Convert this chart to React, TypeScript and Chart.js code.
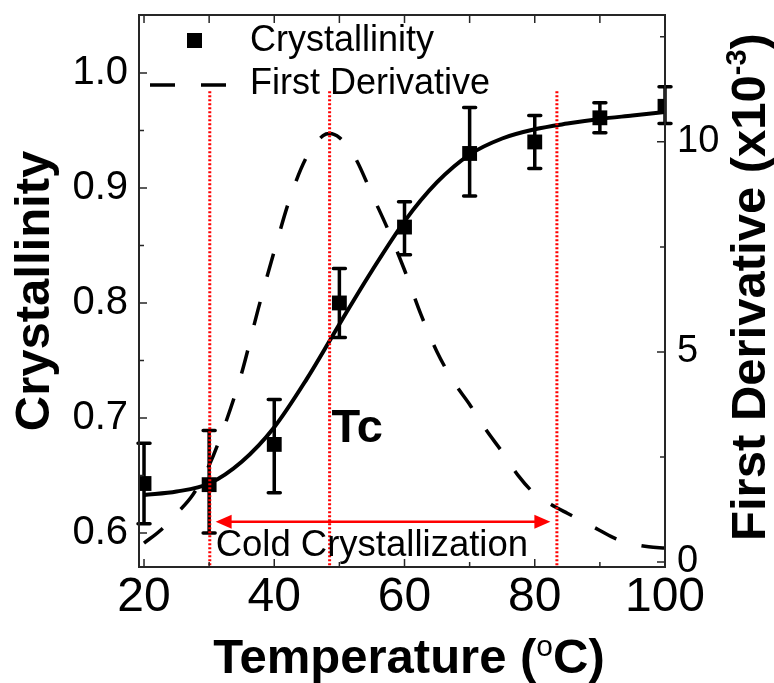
import React, { useEffect, useRef } from "react";
import { Chart, registerables } from "chart.js";

Chart.register(...registerables);

// Measured crystallinity (squares) with error bars
const temperatures = [20, 30, 40, 50, 60, 70, 80, 90, 100];
const crystallinity = [0.643, 0.642, 0.677, 0.8, 0.866, 0.93, 0.94, 0.961, 0.971];
const crystallinityLow = [0.608, 0.6, 0.635, 0.77, 0.842, 0.893, 0.917, 0.948, 0.956];
const crystallinityHigh = [0.678, 0.689, 0.716, 0.83, 0.888, 0.97, 0.963, 0.974, 0.988];

// Sigmoidal fit through the measurements
const fitTemperatures = [20, 25, 30, 35, 40, 45, 48.6, 51, 55, 60, 65, 70, 75, 80, 85, 90, 95, 100];
const fitCrystallinity = [0.633, 0.636, 0.643, 0.662, 0.692, 0.734, 0.768, 0.791, 0.828, 0.871, 0.905, 0.929, 0.943, 0.951, 0.956, 0.96, 0.963, 0.966];

// First derivative of the fit, in units of 10^-3
const derivativeTemperatures = [20, 22.5, 25, 27.5, 30, 32.5, 35, 37.5, 40, 42.5, 45, 47.5, 48.5, 50, 52.5, 55, 57.5, 60, 62.5, 65, 67.5, 70, 72.5, 75, 77.5, 80, 82.5, 85, 87.5, 90, 92.5, 95, 97.5, 100];
const derivativeValues = [0.45, 0.75, 1.15, 1.6, 2.3, 3.3, 4.5, 6.0, 7.4, 8.7, 9.65, 10.15, 10.2, 10.1, 9.6, 8.75, 7.9, 6.95, 5.9, 5.0, 4.3, 3.75, 3.15, 2.62, 2.05, 1.62, 1.37, 1.16, 0.96, 0.75, 0.55, 0.43, 0.36, 0.33];

// Onset, peak (Tc) and end of cold crystallization
const markerTemperatures = [30.1, 48.5, 83.4];
const coldCrystallizationRange = [31.0, 82.4];

// Axis ticks
const xTicks = [20, 40, 60, 80, 100];
const xMinorTicks = [30, 50, 70, 90];
const leftTicks = [0.6, 0.7, 0.8, 0.9, 1.0];
const leftMinorTicks = [0.65, 0.75, 0.85, 0.95];
const rightTicks = [0, 5, 10];
const rightMinorTicks = [2.5, 7.5, 12.5];

const FONT = '"Liberation Sans", Arial, Helvetica, sans-serif';
const RED = "#ff0000";
const INK = "#000000";
const FRAME = "#262626";

type Seg = { text: string; font: string; rise: number };

function segWidth(ctx: CanvasRenderingContext2D, segs: Seg[]) {
  let w = 0;
  for (const s of segs) {
    ctx.font = s.font;
    w += ctx.measureText(s.text).width;
  }
  return w;
}

function drawSegs(ctx: CanvasRenderingContext2D, segs: Seg[], x: number, y: number) {
  let cx = x;
  for (const s of segs) {
    ctx.font = s.font;
    ctx.fillText(s.text, cx, y - s.rise);
    cx += ctx.measureText(s.text).width;
  }
}

const noPadding = (s: any) => {
  s.paddingTop = 0;
  s.paddingBottom = 0;
  s.paddingLeft = 0;
  s.paddingRight = 0;
};

const decorations = {
  id: "decorations",
  beforeDatasetsDraw(chart: any) {
    const ctx: CanvasRenderingContext2D = chart.ctx;
    const xs = chart.scales.x;
    const ys = chart.scales.y;
    ctx.save();
    ctx.strokeStyle = INK;
    ctx.lineWidth = 3.5;
    ctx.lineCap = "round";
    temperatures.forEach((t, i) => {
      const x = xs.getPixelForValue(t);
      const yl = ys.getPixelForValue(crystallinityLow[i]);
      const yh = ys.getPixelForValue(crystallinityHigh[i]);
      ctx.beginPath();
      ctx.moveTo(x, yl);
      ctx.lineTo(x, yh);
      ctx.moveTo(x - 6, yl);
      ctx.lineTo(x + 6, yl);
      ctx.moveTo(x - 6, yh);
      ctx.lineTo(x + 6, yh);
      ctx.stroke();
    });
    ctx.restore();
  },
  afterDatasetsDraw(chart: any) {
    const ctx: CanvasRenderingContext2D = chart.ctx;
    const xs = chart.scales.x;
    const ys = chart.scales.y;
    const yr = chart.scales.y1;
    const a = chart.chartArea;

    ctx.save();
    // dotted red markers
    ctx.strokeStyle = RED;
    ctx.lineWidth = 3;
    ctx.setLineDash([2, 2]);
    const topY = ys.getPixelForValue(0.984);
    markerTemperatures.forEach((t) => {
      const x = xs.getPixelForValue(t);
      ctx.beginPath();
      ctx.moveTo(x, topY);
      ctx.lineTo(x, a.bottom);
      ctx.stroke();
    });
    ctx.setLineDash([]);

    // double-headed arrow
    const ay = ys.getPixelForValue(0.6098);
    const x0 = xs.getPixelForValue(coldCrystallizationRange[0]);
    const x1 = xs.getPixelForValue(coldCrystallizationRange[1]);
    ctx.lineWidth = 2.5;
    ctx.beginPath();
    ctx.moveTo(x0 + 10, ay);
    ctx.lineTo(x1 - 10, ay);
    ctx.stroke();
    ctx.fillStyle = RED;
    ctx.beginPath();
    ctx.moveTo(x0, ay);
    ctx.lineTo(x0 + 16, ay - 7);
    ctx.lineTo(x0 + 16, ay + 7);
    ctx.closePath();
    ctx.fill();
    ctx.beginPath();
    ctx.moveTo(x1, ay);
    ctx.lineTo(x1 - 16, ay - 7);
    ctx.lineTo(x1 - 16, ay + 7);
    ctx.closePath();
    ctx.fill();

    // annotations
    ctx.fillStyle = INK;
    ctx.textBaseline = "alphabetic";
    ctx.textAlign = "left";
    ctx.font = `36.5px ${FONT}`;
    ctx.fillText("Cold Crystallization", x0, ys.getPixelForValue(0.58));
    ctx.font = `bold 47px ${FONT}`;
    ctx.fillText("Tc", xs.getPixelForValue(48.8), ys.getPixelForValue(0.679));

    // frame
    ctx.strokeStyle = FRAME;
    ctx.lineWidth = 2;
    ctx.strokeRect(a.left, a.top, a.right - a.left, a.bottom - a.top);

    // inward ticks
    ctx.lineWidth = 1.5;
    ctx.beginPath();
    const major = 8;
    const minor = 5;
    [...xTicks.map((v) => [v, major]), ...xMinorTicks.map((v) => [v, minor])].forEach(([v, len]) => {
      const x = xs.getPixelForValue(v);
      ctx.moveTo(x, a.bottom);
      ctx.lineTo(x, a.bottom - len);
      ctx.moveTo(x, a.top);
      ctx.lineTo(x, a.top + 8);
    });
    [...leftTicks.map((v) => [v, major]), ...leftMinorTicks.map((v) => [v, minor])].forEach(([v, len]) => {
      const y = ys.getPixelForValue(v);
      ctx.moveTo(a.left, y);
      ctx.lineTo(a.left + len, y);
    });
    [...rightTicks.map((v) => [v, major]), ...rightMinorTicks.map((v) => [v, minor])].forEach(([v, len]) => {
      const y = yr.getPixelForValue(v);
      ctx.moveTo(a.right, y);
      ctx.lineTo(a.right - len, y);
    });
    ctx.stroke();

    // legend
    const lx = a.left;
    const ly = a.top;
    ctx.fillStyle = INK;
    ctx.fillRect(lx + 48, ly + 18, 15, 15);
    ctx.strokeStyle = INK;
    ctx.lineWidth = 3.5;
    ctx.setLineDash([25, 26]);
    ctx.beginPath();
    ctx.moveTo(lx + 11, ly + 70);
    ctx.lineTo(lx + 88, ly + 70);
    ctx.stroke();
    ctx.setLineDash([]);
    ctx.font = `36px ${FONT}`;
    ctx.textBaseline = "middle";
    ctx.fillText("Crystallinity", lx + 111, ly + 26);
    ctx.fillText("First Derivative", lx + 111, ly + 69);
    ctx.restore();
  },
  afterDraw(chart: any) {
    const ctx: CanvasRenderingContext2D = chart.ctx;
    const a = chart.chartArea;
    ctx.save();
    ctx.fillStyle = INK;
    ctx.textBaseline = "alphabetic";
    ctx.textAlign = "left";

    // x title
    const xb = `bold 49px ${FONT}`;
    const xt: Seg[] = [
      { text: "Temperature (", font: xb, rise: 0 },
      { text: "o", font: `30px ${FONT}`, rise: 17 },
      { text: "C)", font: xb, rise: 0 },
    ];
    const cx = 409;
    drawSegs(ctx, xt, cx - segWidth(ctx, xt) / 2, 673);

    // left title
    const lt: Seg[] = [{ text: "Crystallinity", font: `bold 49px ${FONT}`, rise: 0 }];
    ctx.save();
    ctx.translate(49, 291);
    ctx.rotate(-Math.PI / 2);
    drawSegs(ctx, lt, -segWidth(ctx, lt) / 2, 0);
    ctx.restore();

    // right title
    const rb = `bold 49px ${FONT}`;
    const rt: Seg[] = [
      { text: "First Derivative (x10", font: rb, rise: 0 },
      { text: "-3", font: `bold 29px ${FONT}`, rise: 19 },
      { text: ")", font: rb, rise: 0 },
    ];
    ctx.save();
    ctx.translate(765, 287);
    ctx.rotate(-Math.PI / 2);
    drawSegs(ctx, rt, -segWidth(ctx, rt) / 2, 0);
    ctx.restore();
    ctx.restore();
  },
};

export default function App() {
  const ref = useRef<HTMLCanvasElement | null>(null);

  useEffect(() => {
    if (!ref.current) return;
    const chart = new Chart(ref.current, {
      type: "line",
      data: {
        datasets: [
          {
            label: "Fit",
            data: fitTemperatures.map((t, i) => ({ x: t, y: fitCrystallinity[i] })),
            yAxisID: "y",
            borderColor: INK,
            borderWidth: 4,
            pointRadius: 0,
            cubicInterpolationMode: "monotone",
            fill: false,
          },
          {
            label: "First Derivative",
            data: derivativeTemperatures.map((t, i) => ({ x: t, y: derivativeValues[i] })),
            yAxisID: "y1",
            borderColor: INK,
            borderWidth: 3.5,
            borderDash: [24, 26],
            pointRadius: 0,
            cubicInterpolationMode: "monotone",
            fill: false,
          },
          {
            label: "Crystallinity",
            data: temperatures.map((t, i) => ({ x: t, y: crystallinity[i] })),
            yAxisID: "y",
            showLine: false,
            pointStyle: "rect",
            pointRadius: 10.5,
            pointBackgroundColor: INK,
            pointBorderColor: INK,
            pointBorderWidth: 0,
          },
        ],
      },
      options: {
        animation: false,
        responsive: false,
        maintainAspectRatio: false,
        layout: { padding: { top: 15, left: 0, right: 0, bottom: 0 } },
        plugins: { legend: { display: false }, tooltip: { enabled: false }, title: { display: false } },
        scales: {
          x: {
            type: "linear",
            position: "bottom",
            min: 19.23,
            max: 100,
            afterFit: (s: any) => {
              s.height = 116;
              noPadding(s);
            },
            afterBuildTicks: (s: any) => {
              s.ticks = xTicks.map((v) => ({ value: v }));
            },
            grid: { display: false, drawTicks: false },
            border: { display: false },
            ticks: {
              padding: 2,
              maxRotation: 0,
              color: INK,
              font: { family: FONT, size: 48 },
              callback: (v: any) => String(v),
            },
          },
          y: {
            type: "linear",
            position: "left",
            min: 0.5704,
            max: 1.0504,
            afterFit: (s: any) => {
              s.width = 139;
              noPadding(s);
            },
            afterBuildTicks: (s: any) => {
              s.ticks = leftTicks.map((v) => ({ value: v }));
            },
            grid: { display: false, drawTicks: false },
            border: { display: false },
            ticks: {
              padding: 11,
              color: INK,
              font: { family: FONT, size: 40 },
              callback: (v: any) => Number(v).toFixed(1),
            },
          },
          y1: {
            type: "linear",
            position: "right",
            min: -0.12,
            max: 13.02,
            afterFit: (s: any) => {
              s.width = 109;
              noPadding(s);
            },
            afterBuildTicks: (s: any) => {
              s.ticks = rightTicks.map((v) => ({ value: v }));
            },
            grid: { display: false, drawTicks: false },
            border: { display: false },
            ticks: {
              padding: 12,
              color: INK,
              font: { family: FONT, size: 38 },
              callback: (v: any) => String(v),
            },
          },
        },
      },
      plugins: [decorations],
    });
    return () => chart.destroy();
  }, []);

  return (
    <div style={{ position: "fixed", left: 0, top: 0, width: 774, height: 683, background: "#fff" }}>
      <canvas ref={ref} width={774} height={683} style={{ display: "block" }} />
    </div>
  );
}
